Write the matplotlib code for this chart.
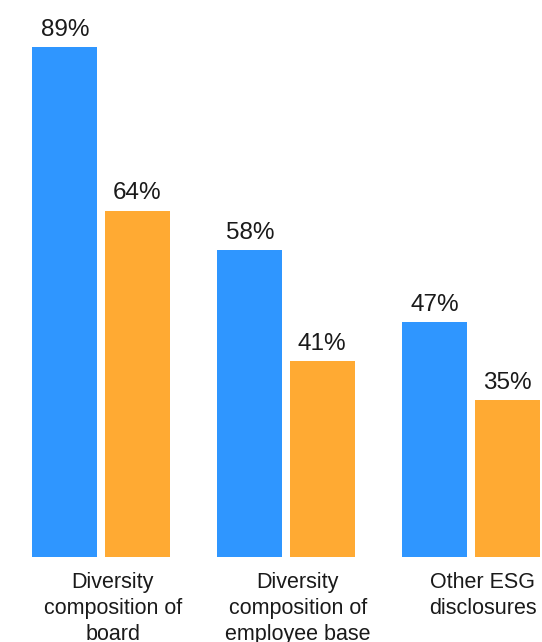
import matplotlib
matplotlib.use("Agg")
import matplotlib.pyplot as plt
import numpy as np

categories = ["Diversity\ncomposition of\nboard",
              "Diversity\ncomposition of\nemployee base",
              "Other ESG\ndisclosures"]
series_a = [89, 58, 47]
series_b = [64, 41, 35]

BLUE = "#2F96FF"
ORANGE = "#FFAA33"
TXT = "#1a1a1a"

plt.rcParams['font.family'] = ['Liberation Sans', 'DejaVu Sans']

fig = plt.figure(figsize=(5.42, 6.42), dpi=100)
ax = fig.add_axes([0, 0.1324, 1, 0.8676])

x = np.arange(len(categories))
w = 0.351
off = 0.195
b1 = ax.bar(x - off, series_a, w, color=BLUE, bottom=0)
b2 = ax.bar(x + off, series_b, w, color=ORANGE, bottom=0)

for bars, vals in ((b1, series_a), (b2, series_b)):
    for r, v in zip(bars, vals):
        ax.annotate(f"{v}%", (r.get_x() + r.get_width() / 2, v),
                    xytext=(0, 8), textcoords="offset points",
                    ha="center", va="baseline", fontsize=17.5, color=TXT)

ax.set_xlim(-0.546, 2.384)
ax.set_ylim(11, 96.2)
ax.axis("off")

for xi, lab in zip(x, categories):
    xf = (xi + 0.546) / (2.384 + 0.546) + 0.022
    fig.text(xf, (642 - 572) / 642, lab, ha="center", va="top",
             fontsize=15.5, color=TXT, linespacing=1.32)

fig.savefig("out.png", dpi=100)
